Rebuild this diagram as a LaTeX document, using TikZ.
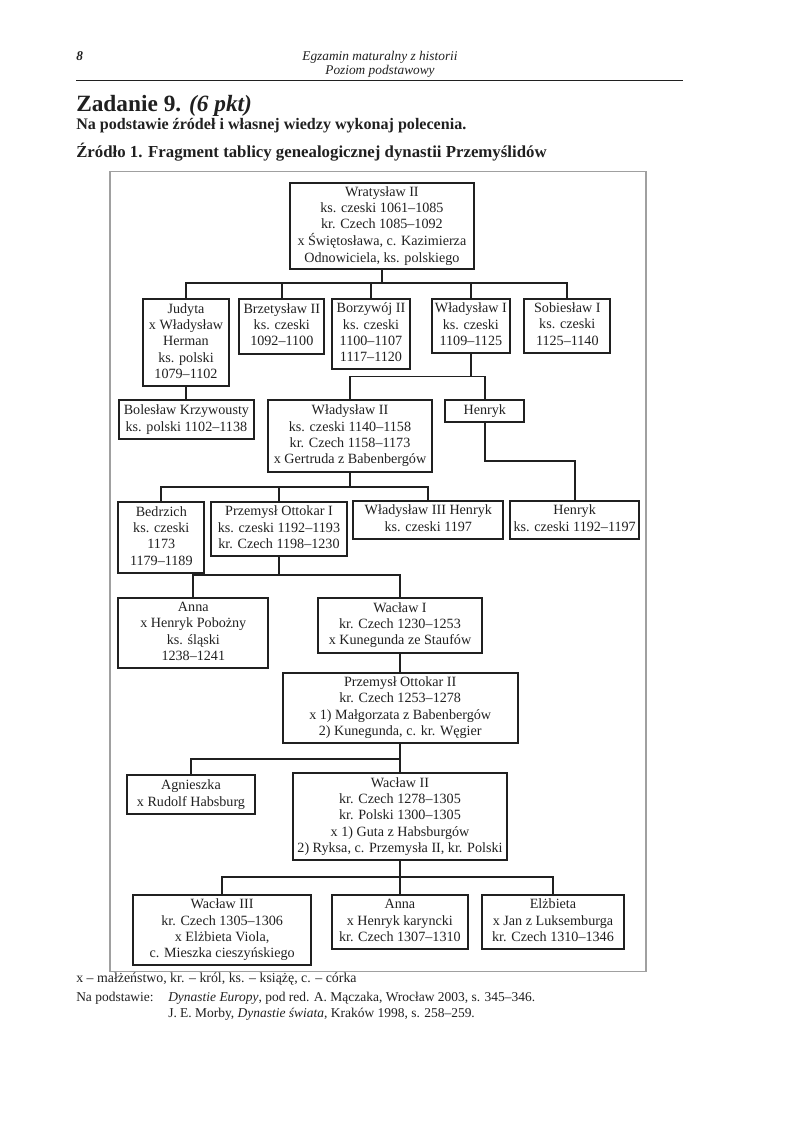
\documentclass[tikz,border=0pt]{standalone}
\usepackage{fontspec}
\setmainfont{Liberation Serif}
\definecolor{ink}{HTML}{202020}
\definecolor{framegray}{HTML}{A0A0A0}
\newcommand{\treefont}{\fontsize{10.6}{12.25}\selectfont}
\newcommand{\notefont}{\fontsize{10.4}{12.5}\selectfont}
\newcommand{\srcfont}{\fontsize{10.1}{12.5}\selectfont}
\newcommand{\tb}[1]{\begin{tabular}{@{}c@{}}#1\end{tabular}}
\begin{document}
\begin{tikzpicture}[x=0.75pt,y=-0.75pt,
  box/.style={draw=ink, line width=1.5pt, inner sep=0pt, text=ink, font=\treefont},
  bx/.style n args={4}{box, anchor=north west, at={(#1,#2)},
     minimum width={(#3-#1)*0.75pt}, minimum height={(#4-#2)*0.75pt}},
  link/.style={draw=ink, line width=1.4pt},
  plain/.style={inner sep=0pt, text=ink},
]
\useasboundingbox (0,0) rectangle (794,1123);

% header
\node[plain, anchor=base west, font=\fontsize{10}{12}\selectfont\bfseries\itshape] (pnum) at (76,61) {8};
\node[plain, anchor=base, font=\fontsize{10}{12}\selectfont\itshape] (hd1) at (380,61) {Egzamin maturalny z historii};
\node[plain, anchor=base, font=\fontsize{10}{12}\selectfont\itshape] (hd2) at (380,75) {Poziom podstawowy};
\draw[ink, line width=0.6pt] (76,80) -- (683,80);

\node[plain, anchor=base west, font=\fontsize{17.5}{20}\selectfont\bfseries] (zad) at (76,112) {Zadanie 9. \textit{(6 pkt)}};
\node[plain, anchor=base west, font=\fontsize{12.05}{14}\selectfont\bfseries] (pol) at (76,130) {Na podstawie źródeł i własnej wiedzy wykonaj polecenia.};
\node[plain, anchor=base west, font=\fontsize{12.6}{14}\selectfont\bfseries] (zr) at (76,158) {Źródło 1. Fragment tablicy genealogicznej dynastii Przemyślidów};

% frame
\draw[framegray, line width=1.1pt] (110,171.7) rectangle (646,971.7);

% boxes
\node[bx={288.5}{181.7}{473.3}{268.3}] (wr) {\tb{Wratysław II\\ks. czeski 1061–1085\\kr. Czech 1085–1092\\x Świętosława, c. Kazimierza\\Odnowiciela, ks. polskiego}};
\node[bx={142.3}{298}{227.7}{385}] (jud) {\tb{Judyta\\x Władysław\\Herman\\ks. polski\\1079–1102}};
\node[bx={238.3}{298}{323.3}{352.5}] (brz) {\tb{Brzetysław II\\ks. czeski\\1092–1100}};
\node[bx={331}{298}{409}{368.3}] (bor) {\tb{Borzywój II\\ks. czeski\\1100–1107\\1117–1120}};
\node[bx={430.7}{298}{509}{351.7}] (wl1) {\tb{Władysław I\\ks. czeski\\1109–1125}};
\node[bx={523.3}{297.5}{609.3}{351.7}] (sob) {\tb{Sobiesław I\\ks. czeski\\1125–1140}};

\node[bx={117.5}{399.3}{253.3}{438.3}] (bol) {\tb{Bolesław Krzywousty\\ks. polski 1102–1138}};
\node[bx={267.3}{399.3}{430.7}{470.7}] (wl2) {\tb{Władysław II\\ks. czeski 1140–1158\\kr. Czech 1158–1173\\x Gertruda z Babenbergów}};
\node[bx={444.3}{399.3}{523.3}{421}] (hen) {\tb{Henryk}};

\node[bx={117.3}{501}{203.3}{571.7}] (bed) {\tb{Bedrzich\\ks. czeski\\1173\\1179–1189}};
\node[bx={210}{501}{346}{555}] (po1) {\tb{Przemysł Ottokar I\\ks. czeski 1192–1193\\kr. Czech 1198–1230}};
\node[bx={352.3}{500}{502.3}{537.7}] (wl3) {\tb{Władysław III Henryk\\ks. czeski 1197}};
\node[bx={509}{500}{638.3}{537.7}] (hen2) {\tb{Henryk\\ks. czeski 1192–1197}};

\node[bx={117.3}{596.7}{267.3}{666.7}] (anna) {\tb{Anna\\x Henryk Pobożny\\ks. śląski\\1238–1241}};
\node[bx={317.3}{596.5}{480.7}{652}] (wac1) {\tb{Wacław I\\kr. Czech 1230–1253\\x Kunegunda ze Staufów}};

\node[bx={281.7}{671.7}{516.7}{741.7}] (po2) {\tb{Przemysł Ottokar II\\kr. Czech 1253–1278\\x 1) Małgorzata z Babenbergów\\2) Kunegunda, c. kr. Węgier}};

\node[bx={126}{774}{254}{813.3}] (agn) {\tb{Agnieszka\\x Rudolf Habsburg}};
\node[bx={292.3}{772}{505.7}{859.3}] (wac2) {\tb{Wacław II\\kr. Czech 1278–1305\\kr. Polski 1300–1305\\x 1) Guta z Habsburgów\\2) Ryksa, c. Przemysła II, kr. Polski}};

\node[bx={132.3}{894}{310}{964.3}] (wac3) {\tb{Wacław III\\kr. Czech 1305–1306\\x Elżbieta Viola,\\c. Mieszka cieszyńskiego}};
\node[bx={331}{894}{466.7}{947.7}] (anna2) {\tb{Anna\\x Henryk karyncki\\kr. Czech 1307–1310}};
\node[bx={480.7}{894}{623.3}{947.7}] (elz) {\tb{Elżbieta\\x Jan z Luksemburga\\kr. Czech 1310–1346}};

% connectors
\coordinate (b1) at (wr.south |- 0,283);
\draw[link] (wr.south) -- (b1);
\foreach \c in {jud,brz,bor,wl1,sob} \draw[link] (\c.north) |- (b1);

\draw[link] (jud.south) -- (jud.south |- bol.north);

\coordinate (b2) at (wl1.south |- 0,376.5);
\draw[link] (wl1.south) -- (b2);
\foreach \c in {wl2,hen} \draw[link] (\c.north) |- (b2);

\coordinate (hb) at (hen2.north |- 0,460.7);
\draw[link] (hen.south) |- (hb) -- (hen2.north);

\coordinate (b3) at (wl2.south |- 0,486.7);
\draw[link] (wl2.south) -- (b3);
\foreach \c in {bed,po1,wl3} \draw[link] (\c.north) |- (b3);

\coordinate (b4) at (po1.south |- 0,575);
\draw[link] (po1.south) -- (b4);
\foreach \c in {anna,wac1} \draw[link] (\c.north) |- (b4);

\draw[link] (wac1.south) -- (wac1.south |- po2.north);

\coordinate (b5) at (po2.south |- 0,759);
\draw[link] (po2.south) -- (b5);
\foreach \c in {agn,wac2} \draw[link] (\c.north) |- (b5);

\coordinate (b6) at (wac2.south |- 0,877.3);
\draw[link] (wac2.south) -- (b6);
\foreach \c in {wac3,anna2,elz} \draw[link] (\c.north) |- (b6);

% notes
\node[plain, anchor=base west, font=\notefont] (leg) at (76,982) {x – małżeństwo, kr. – król, ks. – książę, c. – córka};
\node[plain, anchor=base west, font=\srcfont] (np) at (76,1001) {Na podstawie:};
\node[plain, anchor=base west, font=\srcfont] (src1) at (168,1001) {\textit{Dynastie Europy}, pod red. A. Mączaka, Wrocław 2003, s. 345–346.};
\node[plain, anchor=base west, font=\srcfont] (src2) at (168,1017) {J. E. Morby, \textit{Dynastie świata}, Kraków 1998, s. 258–259.};
\end{tikzpicture}
\end{document}
